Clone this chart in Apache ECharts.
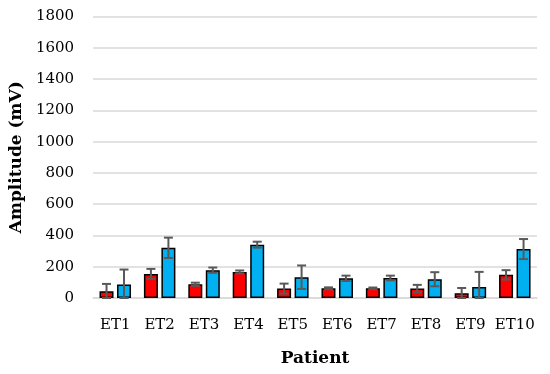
<!DOCTYPE html>
<html><head><meta charset="utf-8">
<script src="https://cdn.jsdelivr.net/npm/echarts@6/dist/echarts.min.js"></script>
<style>html,body{margin:0;padding:0;background:#fff}#c{width:550px;height:374px}</style>
</head><body><div id="c"></div>
<script>
const categories = ['ET1','ET2','ET3','ET4','ET5','ET6','ET7','ET8','ET9','ET10'];
const redValues  = [43, 154, 88, 167, 60, 62, 62, 60, 30, 148];
const redErrors  = [47, 32, 10, 9, 32, 6, 5, 24, 34, 30];
const blueValues = [86, 321, 178, 341, 133, 126, 128, 120, 71, 313];
const blueErrors = [96, 65, 17, 19, 75, 17, 15, 45, 96, 64];
const yTicks = [0, 200, 400, 600, 800, 1000, 1200, 1400, 1600, 1800];

const serif = '"Palatino Linotype", Palatino, "DejaVu Serif", serif';
const BAR_W = 14, OFFSET = 8.75;

function errData(vals, errs) {
  return vals.map((v, i) => [i, Math.max(0, v - errs[i]), v + errs[i]]);
}
function errRender(offset) {
  return function (params, api) {
    const i = api.value(0);
    const lo = api.coord([i, api.value(1)]);
    const hi = api.coord([i, api.value(2)]);
    const x = lo[0] + offset;
    const cap = 4.5;
    const st = { stroke: '#595959', lineWidth: 2 };
    return { type: 'group', children: [
      { type: 'line', shape: { x1: x, y1: lo[1], x2: x, y2: hi[1] }, style: st },
      { type: 'line', shape: { x1: x - cap, y1: hi[1], x2: x + cap, y2: hi[1] }, style: st },
      { type: 'line', shape: { x1: x - cap, y1: lo[1], x2: x + cap, y2: lo[1] }, style: st }
    ]};
  };
}

const chart = echarts.init(document.getElementById('c'), null, { renderer: 'canvas' });
chart.setOption({
  animation: false,
  grid: { left: 92, right: 13, top: 16.5, bottom: 76, containLabel: false },
  xAxis: {
    type: 'category', data: categories,
    axisLine: { show: true, lineStyle: { color: '#d9d9d9', width: 1.5 } },
    axisTick: { show: false },
    axisLabel: { color: '#000', fontFamily: serif, fontSize: 15, margin: 20, interval: 0 },
    name: 'Patient', nameLocation: 'middle', nameGap: 52,
    nameTextStyle: { color: '#000', fontFamily: serif, fontSize: 17, fontWeight: 'bold' }
  },
  yAxis: {
    type: 'value', min: 0, max: 1800, interval: 200,
    axisLine: { show: false }, axisTick: { show: false },
    splitLine: { lineStyle: { color: '#d9d9d9', width: 1.5 } },
    axisLabel: { color: '#000', fontFamily: serif, fontSize: 15, margin: 19,
      formatter: v => yTicks.includes(v) ? String(v) : '' },
    name: 'Amplitude (mV)', nameLocation: 'middle', nameGap: 68, nameRotate: 90,
    nameTextStyle: { color: '#000', fontFamily: serif, fontSize: 17, fontWeight: 'bold' }
  },
  series: [
    { type: 'bar', data: redValues, barWidth: BAR_W, barGap: '25%',
      itemStyle: { color: '#FF0000', borderColor: '#000', borderWidth: 1.5 } },
    { type: 'bar', data: blueValues, barWidth: BAR_W, barGap: '25%',
      itemStyle: { color: '#00B0F0', borderColor: '#000', borderWidth: 1.5 } },
    { type: 'custom', data: errData(redValues, redErrors), renderItem: errRender(-OFFSET), z: 10,
      encode: { x: 0, y: [1, 2] } },
    { type: 'custom', data: errData(blueValues, blueErrors), renderItem: errRender(OFFSET), z: 10,
      encode: { x: 0, y: [1, 2] } }
  ]
});
</script></body></html>
